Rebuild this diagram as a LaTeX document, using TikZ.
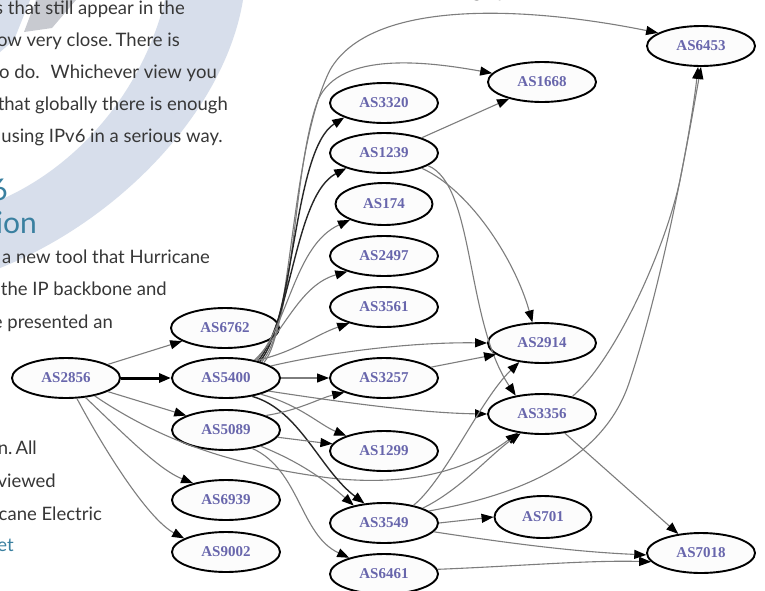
\documentclass[tikz,border=0pt]{standalone}
\usepackage{fontspec}
\setmainfont{Liberation Serif}
\newfontfamily\bodyfont{Lato}
\usetikzlibrary{arrows.meta,shapes.geometric}
\definecolor{bandblue}{RGB}{215,222,235}
\definecolor{shadegray}{RGB}{200,202,208}
\definecolor{headblue}{RGB}{58,128,160}
\definecolor{labelblue}{RGB}{104,102,172}
\definecolor{edgegray}{RGB}{125,125,125}
\definecolor{textgray}{RGB}{55,55,55}
\definecolor{nodefill}{RGB}{252,252,252}
\begin{document}
\begin{tikzpicture}[x=1pt,y=-1pt,
  asnode/.style={ellipse, draw=black, line width=1.9pt, fill=nodefill, minimum width=108pt, minimum height=40pt, inner sep=0pt, text=labelblue, font=\fontsize{15}{18}\selectfont\bfseries},
  asnarrow/.style={asnode, minimum width=97pt, minimum height=42pt},
  conn/.style={draw=edgegray, line width=1.1pt, -{Triangle[length=12pt,width=9pt,color=black]}},
  conndark/.style={conn, draw=black!85, line width=1.4pt},
  connthick/.style={conn, draw=black, line width=3pt},
  body/.style={font=\bodyfont\fontsize{18.5}{22}\selectfont, text=textgray, anchor=base east, inner sep=0pt},
  headtext/.style={font=\bodyfont\fontsize{30}{36}\selectfont, text=headblue, anchor=base east, inner sep=0pt}
]
\useasboundingbox (0,0) rectangle (765,590);
\clip (0,0) rectangle (765,590);
\fill[white] (0,0) rectangle (765,590);
% background band
\fill[bandblue] (165,0) -- (243,0) .. controls (225,110) and (120,220) .. (0,268) -- (0,200) .. controls (70,170) and (140,100) .. (165,0) -- cycle;
\fill[bandblue] (0,0) -- (30,0) -- (14,40) -- (0,52) -- cycle;
\fill[shadegray] (36,0) -- (76,0) -- (52,28) -- (24,32) -- cycle;

% partial texts on the left
\node[body] (t1) at (185,14) {s that still appear in the};
\node[body] (t2) at (180,46) {ow very close.\,There is};
\node[body] (t3) at (217,78) {o do.~ Whichever view you};
\node[body] (t4) at (228,110) {that globally there is enough};
\node[body] (t5) at (223,142) {r using IPv6 in a serious way.};
\node[headtext] (h1) at (8,200) {IPv6};
\node[headtext] (h2) at (37,233) {ation};
\node[body] (t6) at (210,263) {a new tool that Hurricane};
\node[body] (t7) at (167,295) {the IP backbone and};
\node[body] (t8) at (113,328) {we presented an};
\node[body] (t9) at (37,454) {on.\,All};
\node[body] (t10) at (56,487) {viewed};
\node[body] (t11) at (102,520) {rricane Electric};
\node[body, text=headblue] (t12) at (14,551) {net};
\node[body, anchor=base west] (t13) at (472,-3) {graph};

% nodes
\node[asnode] (AS6453) at (701,46) {AS6453};
\node[asnode] (AS1668) at (542,82) {AS1668};
\node[asnode] (AS3320) at (384,103) {AS3320};
\node[asnode] (AS1239) at (384,153) {AS1239};
\node[asnarrow] (AS174) at (384,204) {AS174};
\node[asnode] (AS2497) at (384,256) {AS2497};
\node[asnode] (AS3561) at (384,307) {AS3561};
\node[asnode] (AS6762) at (225,328) {AS6762};
\node[asnode] (AS5400) at (226,378) {AS5400};
\node[asnode] (AS2856) at (66,378) {AS2856};
\node[asnode] (AS5089) at (226,430) {AS5089};
\node[asnode] (AS6939) at (226,500) {AS6939};
\node[asnode] (AS9002) at (226,552) {AS9002};
\node[asnode] (AS3257) at (384,378) {AS3257};
\node[asnode] (AS1299) at (384,451) {AS1299};
\node[asnode] (AS3549) at (384,523) {AS3549};
\node[asnode] (AS6461) at (384,574) {AS6461};
\node[asnode] (AS2914) at (542,343) {AS2914};
\node[asnode] (AS3356) at (542,414) {AS3356};
\node[asnarrow] (AS701) at (543,517) {AS701};
\node[asnode] (AS7018) at (701,553) {AS7018};

% edges from AS2856
\draw[conn] (AS2856.18) -- (AS6762.-163);
\draw[connthick] (AS2856.east) -- (AS5400.west);
\draw[conn] (AS2856.-18) -- (AS5089.160);
\draw[conn] (AS2856.-32) .. controls (160,440) and (230,465) .. (330,478) .. controls (420,488) and (475,465) .. (AS3356.-142);
\draw[conn] (AS2856.-45) .. controls (130,440) and (160,470) .. (AS6939.153);
\draw[conn] (AS2856.-62) .. controls (110,460) and (150,520) .. (AS9002.162);

% edges from AS5400
\draw[conn] (AS5400.22) .. controls (292,330) and (290,150) .. (330,70) .. controls (370,0) and (520,5) .. (AS6453.163);
\draw[conn] (AS5400.24) .. controls (296,320) and (292,170) .. (318,100) .. controls (340,50) and (430,62) .. (AS1668.170);
\draw[conndark] (AS5400.26) .. controls (295,320) and (293,150) .. (AS3320.-160);
\draw[conndark] (AS5400.28) .. controls (292,320) and (295,195) .. (AS1239.-158);
\draw[conn] (AS5400.30) .. controls (290,320) and (295,245) .. (AS174.-155);
\draw[conn] (AS5400.32) .. controls (285,330) and (300,285) .. (AS2497.-157);
\draw[conn] (AS5400.30) .. controls (295,352) and (315,335) .. (AS3561.-155);
\draw[conn] (AS5400.15) .. controls (340,350) and (420,342) .. (AS2914.west);
\draw[conn] (AS5400.east) -- (AS3257.west);
\draw[conn] (AS5400.-17) .. controls (340,402) and (420,413) .. (AS3356.west);
\draw[conn] (AS5400.-25) .. controls (300,405) and (320,425) .. (AS1299.158);
\draw[conndark] (AS5400.-35) .. controls (300,410) and (320,470) .. (AS3549.135);

% edges from AS5089
\draw[conn] (AS5089.20) .. controls (300,410) and (320,398) .. (AS3257.-160);
\draw[conn] (AS5089.-8) .. controls (300,440) and (315,442) .. (AS1299.172);
\draw[conn] (AS5089.-25) .. controls (300,462) and (325,480) .. (AS3549.150);
\draw[conn] (AS5089.-35) .. controls (300,470) and (300,535) .. (AS6461.155);

% edges from AS1239
\draw[conn] (AS1239.22) -- (AS1668.-153);
\draw[conn] (AS1239.-22) .. controls (470,190) and (515,260) .. (AS2914.115);
\draw[conn] (AS1239.-16) .. controls (475,185) and (465,320) .. (AS3356.145);

% edges from AS3257
\draw[conn] (AS3257.13) -- (AS2914.-166);

% edges from AS3549
\draw[conn] (AS3549.31) .. controls (445,480) and (480,400) .. (AS2914.-140);
\draw[conn] (AS3549.21) .. controls (460,490) and (490,455) .. (AS3356.-138);
\draw[conn] (AS3549.15) .. controls (520,495) and (605,460) .. (630,380) .. controls (660,290) and (690,140) .. (AS6453.-98);
\draw[conn] (AS3549.east) -- (AS701.west);
\draw[conn] (AS3549.-10) .. controls (520,545) and (580,552) .. (AS7018.182);

% edges from AS3356
\draw[conn] (AS3356.30) .. controls (615,360) and (665,250) .. (680,180) .. controls (690,130) and (695,100) .. (AS6453.-90);
\draw[conn] (AS3356.-40) -- (AS7018.140);

% edge from AS6461
\draw[conn] (AS6461.5) .. controls (520,566) and (590,560) .. (AS7018.190);
\end{tikzpicture}
\end{document}
